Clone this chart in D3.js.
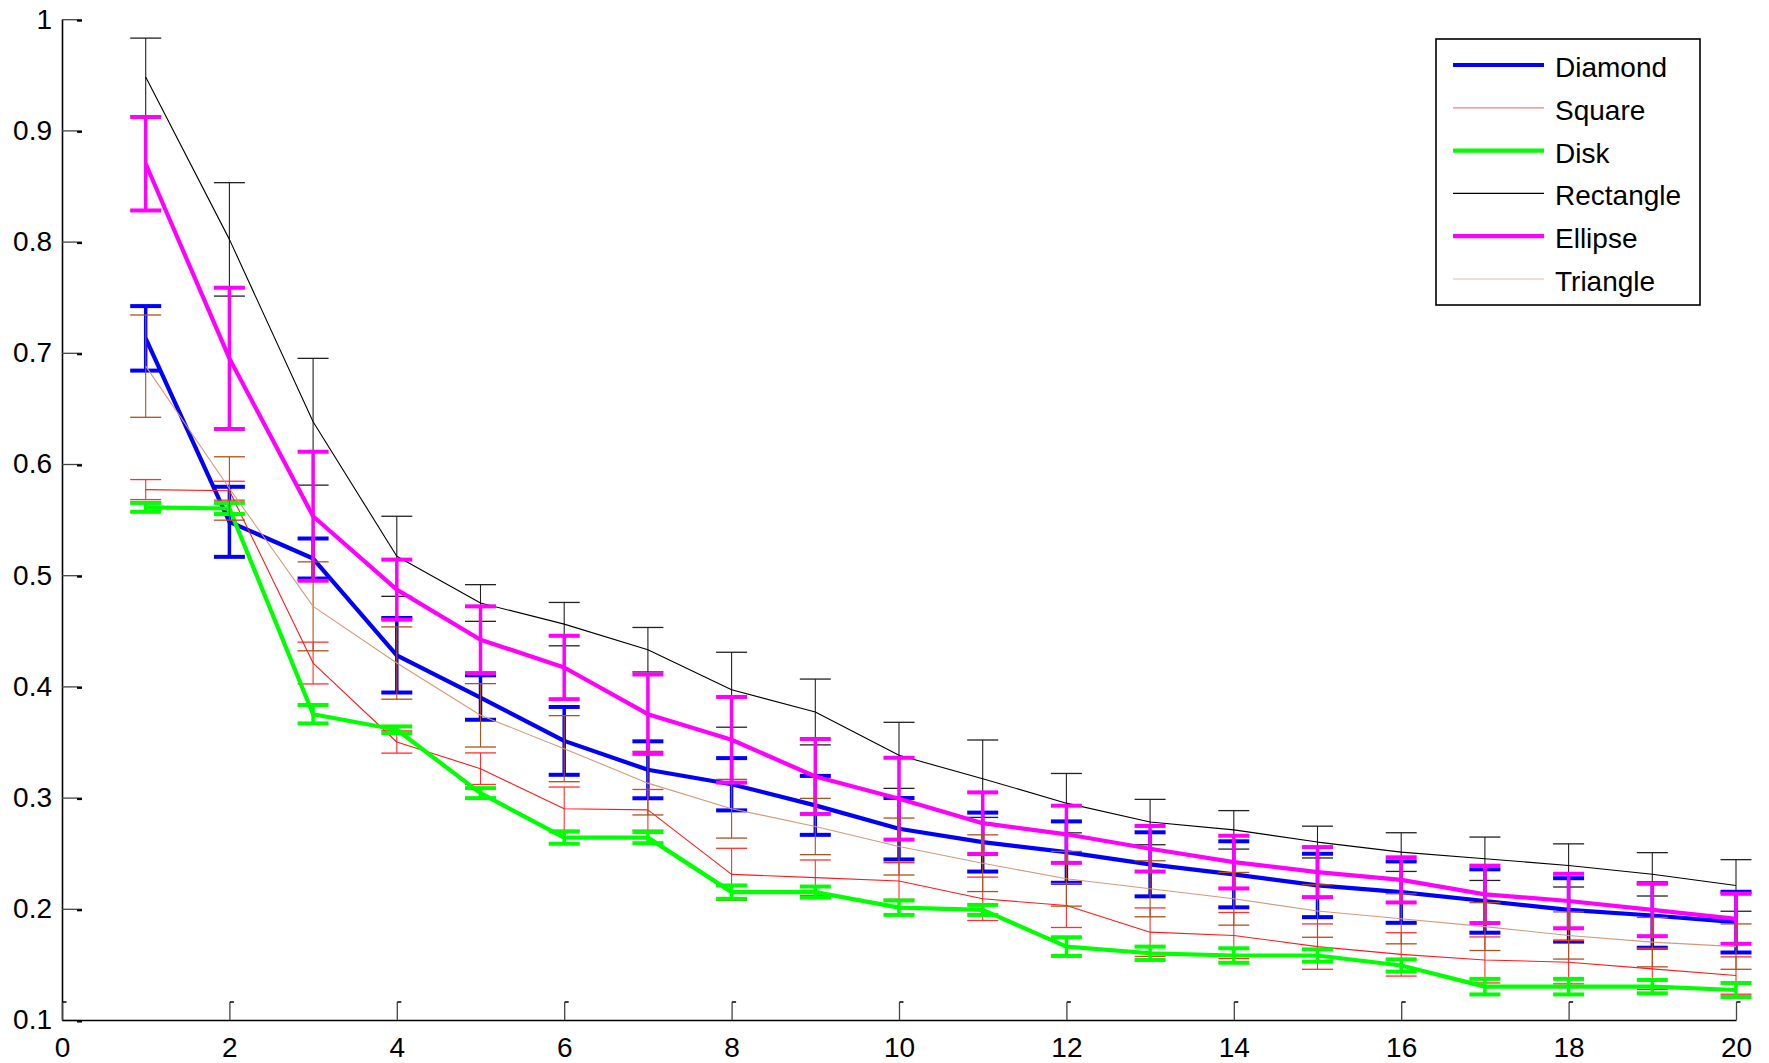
<!DOCTYPE html>
<html>
<head>
<meta charset="utf-8">
<script src="https://cdn.jsdelivr.net/npm/d3@7"></script>
<style>
html,body{margin:0;padding:0;background:#fff;}
svg{display:block;font-family:"Liberation Sans",Arial,Helvetica,sans-serif;}
</style>
</head>
<body>
<svg id="chart" width="1769" height="1063"></svg>
<script>
// ---- data ----
const steps = [1,2,3,4,5,6,7,8,9,10,11,12,13,14,15,16,17,18,19,20];
const xTicks = [0,2,4,6,8,10,12,14,16,18,20];
const yTicks = [0.1,0.2,0.3,0.4,0.5,0.6,0.7,0.8,0.9,1];
const yTickLabels = ["0.1","0.2","0.3","0.4","0.5","0.6","0.7","0.8","0.9","1"];
const seriesNames = ["Diamond","Square","Disk","Rectangle","Ellipse","Triangle"];

const diamondMean = [0.713,0.548,0.515,0.428,0.390,0.351,0.325,0.312,0.293,0.272,0.260,0.251,0.240,0.231,0.221,0.215,0.207,0.199,0.194,0.188];
const diamondErr  = [0.029,0.0315,0.018,0.0335,0.020,0.0305,0.0256,0.0235,0.0265,0.0276,0.0265,0.0276,0.0288,0.0297,0.0285,0.0276,0.0285,0.0285,0.029,0.0273];

const squareMean = [0.577,0.576,0.421,0.350,0.326,0.290,0.289,0.231,0.228,0.225,0.209,0.203,0.179,0.176,0.166,0.159,0.154,0.152,0.146,0.140];
const squareErr  = [0.009,0.0085,0.0188,0.010,0.0142,0.0195,0.0183,0.0234,0.0159,0.0165,0.0195,0.0198,0.0218,0.0207,0.0204,0.0195,0.0207,0.0195,0.0185,0.0168];

const diskMean = [0.561,0.560,0.375,0.361,0.304,0.264,0.264,0.215,0.215,0.201,0.199,0.166,0.160,0.158,0.158,0.149,0.130,0.130,0.130,0.127];
const diskErr  = [0.004,0.005,0.0083,0.003,0.0045,0.0055,0.005,0.006,0.005,0.0065,0.0045,0.0084,0.006,0.0065,0.0055,0.0055,0.007,0.007,0.006,0.0063];

const rectangleMean = [0.948,0.802,0.638,0.517,0.475,0.456,0.433,0.397,0.377,0.338,0.317,0.295,0.278,0.271,0.260,0.251,0.245,0.239,0.231,0.221];
const rectangleErr  = [0.035,0.051,0.057,0.036,0.0165,0.0195,0.020,0.0337,0.0296,0.0297,0.0348,0.0267,0.0204,0.0173,0.0143,0.0174,0.0195,0.0194,0.0195,0.0232];

const ellipseMean = [0.870,0.695,0.553,0.487,0.442,0.417,0.375,0.352,0.319,0.299,0.277,0.267,0.254,0.242,0.233,0.226,0.213,0.207,0.199,0.191];
const ellipseErr  = [0.042,0.0635,0.058,0.027,0.030,0.0285,0.0357,0.0385,0.0337,0.0368,0.0277,0.0257,0.0205,0.0237,0.0225,0.0203,0.0258,0.0245,0.0236,0.0225];

const triangleMean = [0.688,0.578,0.472,0.421,0.374,0.344,0.313,0.290,0.274,0.256,0.241,0.227,0.218,0.209,0.198,0.191,0.184,0.176,0.170,0.166];
const triangleErr  = [0.046,0.0285,0.040,0.0325,0.0285,0.0297,0.0286,0.0264,0.0253,0.0256,0.0255,0.0246,0.0252,0.0237,0.0236,0.0225,0.0215,0.0212,0.0222,0.0204];

// ---- styles ----
const styles = {
  Diamond:   {line:"#0000ff", bar:"#0000ff", w:4.2, bw:3.5, cw:4},
  Square:    {line:"#ff1a1a", bar:"#ff3030", w:1.1, bw:1.1, cw:1.3},
  Disk:      {line:"#00ff00", bar:"#00ff00", w:4.2, bw:3.5, cw:4},
  Rectangle: {line:"#000000", bar:"#222222", w:1.1, bw:1.1, cw:1.3},
  Ellipse:   {line:"#ff00ff", bar:"#ff00ff", w:4.2, bw:3.5, cw:4},
  Triangle:  {line:"#d39a7a", bar:"#b0501a", w:1.1, bw:1.1, cw:1.3}
};
const seriesData = {
  Diamond:[diamondMean,diamondErr],
  Square:[squareMean,squareErr],
  Disk:[diskMean,diskErr],
  Rectangle:[rectangleMean,rectangleErr],
  Ellipse:[ellipseMean,ellipseErr],
  Triangle:[triangleMean,triangleErr]
};

const svg = d3.select("#chart");
const pLeft = 62, pRight = 1736, pTop = 19.2, pBottom = 1020;
const x = d3.scaleLinear().domain([0,20]).range([pLeft,pRight]);
const y = d3.scaleLinear().domain([0.1,1]).range([pBottom,pTop]);

// axes
const fontSize = 28;
const yAxis = d3.axisLeft(y).tickValues(yTicks)
  .tickFormat((d,i)=>yTickLabels[i]).tickSizeInner(-20).tickSizeOuter(0).tickPadding(10);
const xAxis = d3.axisBottom(x).tickValues(xTicks)
  .tickFormat(d=>String(d)).tickSizeInner(-18).tickSizeOuter(0).tickPadding(17);

const gy = svg.append("g").attr("transform",`translate(${pLeft},0)`).call(yAxis);
const gx = svg.append("g").attr("transform",`translate(0,${pBottom})`).call(xAxis);
[gx,gy].forEach(g=>{
  g.selectAll("text").attr("font-size",fontSize).attr("fill","#000")
    .attr("font-family","'Liberation Sans',Arial,sans-serif");
  g.select(".domain").attr("stroke","#000").attr("stroke-width",1.6);
  g.selectAll(".tick line").attr("stroke","#444").attr("stroke-width",1.3);
});
// small tick end hooks (as in reference rendering)
gx.selectAll(".tick").append("line")
  .attr("x1",0).attr("x2",4).attr("y1",-18).attr("y2",-18)
  .attr("stroke","#000").attr("stroke-width",1.5);
gy.selectAll(".tick").append("line")
  .attr("x1",15).attr("x2",20).attr("y1",1).attr("y2",1)
  .attr("stroke","#000").attr("stroke-width",2);

// series
const plot = svg.append("g");
const capHalf = 15.5;
seriesNames.forEach(name=>{
  const [mean, err] = seriesData[name];
  const st = styles[name];
  const pts = steps.map((s,i)=>({s, m:mean[i], e:err[i]}));
  const g = plot.append("g").attr("class","series-"+name);
  const eb = g.selectAll("g.eb").data(pts).join("g").attr("class","eb");
  eb.append("line")
    .attr("x1",d=>x(d.s)).attr("x2",d=>x(d.s))
    .attr("y1",d=>y(d.m+d.e)).attr("y2",d=>y(d.m-d.e))
    .attr("stroke",st.bar).attr("stroke-width",st.bw);
  eb.append("line")
    .attr("x1",d=>x(d.s)-capHalf).attr("x2",d=>x(d.s)+capHalf)
    .attr("y1",d=>y(d.m+d.e)).attr("y2",d=>y(d.m+d.e))
    .attr("stroke",st.bar).attr("stroke-width",st.cw);
  eb.append("line")
    .attr("x1",d=>x(d.s)-capHalf).attr("x2",d=>x(d.s)+capHalf)
    .attr("y1",d=>y(d.m-d.e)).attr("y2",d=>y(d.m-d.e))
    .attr("stroke",st.bar).attr("stroke-width",st.cw);
  g.append("path").datum(pts)
    .attr("d",d3.line().x(d=>x(d.s)).y(d=>y(d.m)))
    .attr("fill","none").attr("stroke",st.line).attr("stroke-width",st.w)
    .attr("stroke-linejoin","round");
});

// legend
const lg = svg.append("g");
const lx0 = 1436, ly0 = 39, lw = 264, lh = 266;
lg.append("rect").attr("x",lx0).attr("y",ly0).attr("width",lw).attr("height",lh)
  .attr("fill","#fff").attr("stroke","#000").attr("stroke-width",1.6);
const rowY = d3.scaleLinear().domain([0,5]).range([65,279]);
seriesNames.forEach((name,i)=>{
  const st = styles[name];
  const yy = rowY(i);
  lg.append("line").attr("x1",1453).attr("x2",1544).attr("y1",yy).attr("y2",yy)
    .attr("stroke",name==="Square"?"#f47a7a":(name==="Triangle"?"#e2bca8":st.line))
    .attr("stroke-width",st.w>2?st.w:1.2);
  lg.append("text").attr("x",1555).attr("y",yy+2).attr("dy","0.36em")
    .attr("font-size",fontSize).attr("fill","#000").text(name);
});
</script>
</body>
</html>
